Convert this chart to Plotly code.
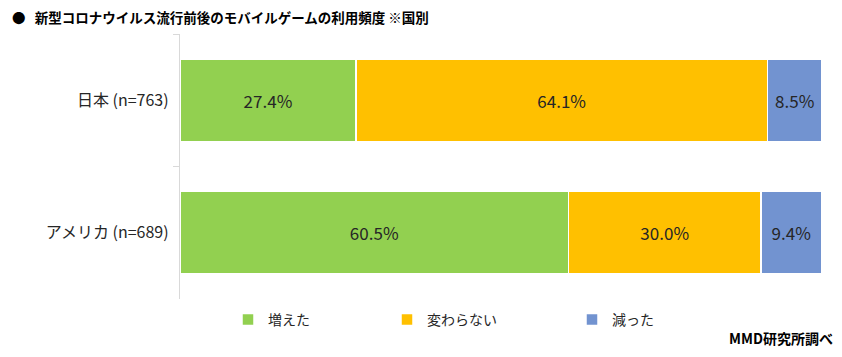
import plotly.graph_objects as go

categories = ["日本 (n=763)", "アメリカ (n=689)"]
series_names = ["増えた", "変わらない", "減った"]
increased = [27.4, 60.5]
unchanged = [64.1, 30.0]
decreased = [8.5, 9.4]
colors = ["#92D050", "#FFC000", "#7293D0"]

FONT = "Noto Sans CJK JP"
OFF = 8  # page body margin
W, H = 842 - 2 * OFF, 357 - 2 * OFF
L, R, T, B = 180 - OFF, W - (822 - OFF), 34 - OFF, H - (299 - OFF)
PH = H - T - B
PW = W - L - R

def lx(px):
    return (px - OFF - L) / PW

def ly(py):
    return ((H - B) - (py - OFF)) / PH

fig = go.Figure()
legend_names = ["legend", "legend2", "legend3"]
for name, vals, col, lg in zip(series_names, [increased, unchanged, decreased], colors, legend_names):
    fig.add_trace(go.Bar(
        y=categories, x=vals, name=name, orientation="h",
        marker=dict(color=col, line=dict(color="white", width=1.5)),
        text=[f"{v:.1f}%" for v in vals], textposition="inside",
        insidetextanchor="middle",
        textfont=dict(family=FONT, size=17, color="#262626"),
        legend=lg,
    ))

leg_common = dict(orientation="h", yanchor="middle", xanchor="left", y=ly(320),
                  font=dict(family=FONT, size=14, color="#262626"),
                  bgcolor="rgba(0,0,0,0)", itemwidth=30)
fig.update_layout(
    width=W, height=H,
    margin=dict(l=L, r=R, t=T, b=B),
    barmode="stack", bargap=0.38,
    plot_bgcolor="white", paper_bgcolor="white",
    showlegend=True,
    legend=dict(x=lx(228), **leg_common),
    legend2=dict(x=lx(387), **leg_common),
    legend3=dict(x=lx(572), **leg_common),
    xaxis=dict(range=[0, 100], showgrid=False, showticklabels=False, zeroline=False,
               showline=False, fixedrange=True),
    yaxis=dict(autorange="reversed", showline=True, linecolor="#D9D9D9", linewidth=1,
               ticks="outside", tickson="boundaries", ticklen=6, tickcolor="#D9D9D9",
               tickfont=dict(family=FONT, size=16, color="#262626"), ticksuffix="  ",
               automargin=False, fixedrange=True),
    annotations=[
        dict(text="<b>●   新型コロナウイルス流行前後のモバイルゲームの利用頻度 ※国別</b>",
             xref="paper", yref="paper", x=lx(10), y=ly(17),
             xanchor="left", yanchor="middle", showarrow=False,
             font=dict(family=FONT, size=13.5, color="#000000")),
        dict(text="<b>MMD研究所調べ</b>",
             xref="paper", yref="paper", x=lx(835), y=ly(338),
             xanchor="right", yanchor="middle", showarrow=False,
             font=dict(family=FONT, size=14, color="#000000")),
    ],
)
fig.write_html("out.html")
